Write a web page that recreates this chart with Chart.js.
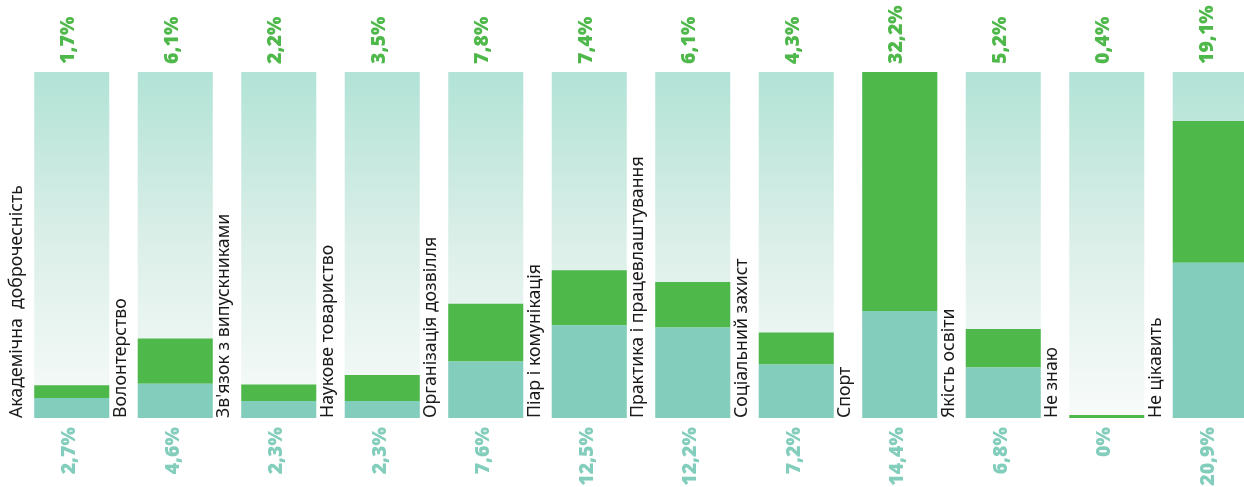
<!DOCTYPE html>
<html>
<head>
<meta charset="utf-8">
<script src="https://cdn.jsdelivr.net/npm/chart.js@4"></script>
<style>
  html, body { margin: 0; padding: 0; background: #fff; overflow: hidden; }
  #wrap { width: 1270px; height: 487px; }
</style>
</head>
<body>
<div id="wrap"><canvas id="chart" width="1270" height="487"></canvas></div>
<script>
const categories = [
    'Академічна  доброчесність', 'Волонтерство', "Зв'язок з випускниками", 'Наукове товариство',
    'Організація дозвілля', 'Піар і комунікація', 'Практика і працевлаштування', 'Соціальний захист',
    'Спорт', 'Якість освіти', 'Не знаю', 'Не цікавить'
];
const bottomValues = [2.7, 4.6, 2.3, 2.3, 7.6, 12.5, 12.2, 7.2, 14.4, 6.8, 0, 20.9];
const topValues = [1.7, 6.1, 2.2, 3.5, 7.8, 7.4, 6.1, 4.3, 32.2, 5.2, 0.4, 19.1];
const scaleMax = 46.6;
const backValues = categories.map(() => scaleMax);

const green = '#4fb84b';
const teal = '#82cdbb';

function fmt(v) {
    return String(v).replace('.', ',') + '%';
}

function backGradient(context) {
    const chart = context.chart;
    const area = chart.chartArea;
    if (!area) return '#d5ede6';
    let g = chart.ctx.createLinearGradient(0, area.top, 0, area.bottom);
    g.addColorStop(0, '#b2e3d6');
    g.addColorStop(0.5, '#dcefe9');
    g.addColorStop(1, '#f8fbfa');
    return g;
}

const labelsPlugin = {
    id: 'labels',
    afterDatasetsDraw(chart) {
        const ctx = chart.ctx;
        const area = chart.chartArea;
        const bars = chart.getDatasetMeta(2).data;
        bars.forEach((bar, i) => {
            const left = bar.x - bar.width / 2;

            // category name left of the bar
            ctx.save();
            ctx.translate(left - 17, area.bottom);
            ctx.rotate(-Math.PI / 2);
            ctx.font = '17.7px "Noto Sans"';
            ctx.fillStyle = '#1a1a1a';
            ctx.textAlign = 'left';
            ctx.textBaseline = 'middle';
            ctx.fillText(categories[i], 0, 0);
            ctx.restore();

            // green value on top
            ctx.save();
            ctx.translate(bar.x - 3, area.top - 8);
            ctx.rotate(-Math.PI / 2);
            ctx.font = '800 19.5px "Open Sans"';
            ctx.fillStyle = green;
            ctx.textAlign = 'left';
            ctx.textBaseline = 'middle';
            ctx.fillText(fmt(topValues[i]), 0, 0);
            ctx.restore();

            // teal value under
            ctx.save();
            ctx.translate(bar.x - 2, area.bottom + 9);
            ctx.rotate(-Math.PI / 2);
            ctx.font = '800 19.5px "Open Sans"';
            ctx.fillStyle = teal;
            ctx.textAlign = 'right';
            ctx.textBaseline = 'middle';
            ctx.fillText(fmt(bottomValues[i]), 0, 0);
            ctx.restore();
        });
    }
};

let config = {
    type: 'bar',
    data: {
        labels: categories,
        datasets: [
            {
                label: 'bottom',
                data: bottomValues,
                backgroundColor: teal,
                stack: 'main',
                order: 1,
                grouped: false,
                barPercentage: 1,
                categoryPercentage: 0.725,
            },
            {
                label: 'top',
                data: topValues,
                backgroundColor: green,
                stack: 'main',
                order: 1,
                grouped: false,
                barPercentage: 1,
                categoryPercentage: 0.725,
            },
            {
                label: 'back',
                data: backValues,
                backgroundColor: backGradient,
                stack: 'back',
                order: 5,
                grouped: false,
                barPercentage: 1,
                categoryPercentage: 0.725,
            },
        ]
    },
    options: {
        responsive: false,
        animation: false,
        layout: { padding: { left: 20, right: 8, top: 72, bottom: 69 } },
        plugins: { legend: { display: false }, tooltip: { enabled: false } },
        scales: {
            x: { display: false, stacked: true },
            y: { display: false, stacked: true, min: 0, max: scaleMax }
        }
    },
    plugins: [labelsPlugin]
};

window.myChart = new Chart(document.getElementById('chart').getContext('2d'), config);
</script>
</body>
</html>
